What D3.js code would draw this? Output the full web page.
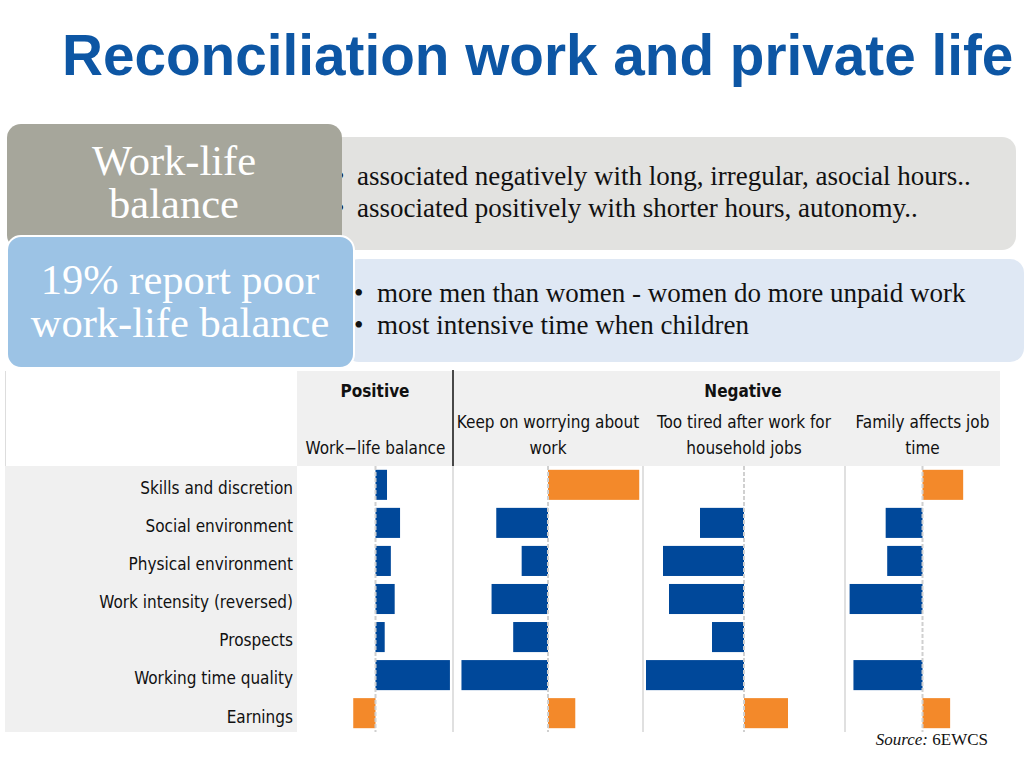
<!DOCTYPE html>
<html>
<head>
<meta charset="utf-8">
<script src="https://cdn.jsdelivr.net/npm/d3@7.9.0/dist/d3.min.js"></script>
<style>
  body { margin: 0; background: #fff; }
  svg { display: block; }
</style>
</head>
<body>
<svg id="slide" width="1024" height="768"></svg>
<script>
// data
const categories = [
  "Skills and discretion",
  "Social environment",
  "Physical environment",
  "Work intensity (reversed)",
  "Prospects",
  "Working time quality",
  "Earnings",
];
const panelTitles = [
  ["Work\u2212life balance"],
  ["Keep on worrying about", "work"],
  ["Too tired after work for", "household jobs"],
  ["Family affects job", "time"],
];
// coefficients, scaled to each panel's own maximum (-1..1)
const workLife = [0.15, 0.32, 0.2, 0.25, 0.12, 0.97, -0.29];
const worrying = [0.97, -0.55, -0.28, -0.6, -0.37, -0.92, 0.29];
const tired = [0, -0.44, -0.81, -0.75, -0.32, -0.98, 0.44];
const family = [0.53, -0.48, -0.46, -0.95, 0, -0.9, 0.36];
const series = [workLife, worrying, tired, family];

const topBullets = [
  "associated negatively with long, irregular, asocial hours..",
  "associated positively with shorter hours, autonomy..",
];
const bottomBullets = [
  "more men than women - women do more unpaid work",
  "most intensive time when children",
];

const blue = "#00489a";
const orange = "#f3892a";
const chartFont = "'DejaVu Sans Condensed', 'DejaVu Sans', sans-serif";
const serif = "'Liberation Serif', 'Times New Roman', serif";

const svg = d3.select("#slide");

// title
svg.append("text")
  .attr("x", 62).attr("y", 75)
  .attr("font-family", "'Liberation Sans', Arial, sans-serif")
  .attr("font-weight", "bold")
  .attr("font-size", 56.7)
  .attr("fill", "#0d56a4")
  .text("Reconciliation work and private life");

// text boxes
svg.append("rect")
  .attr("x", 326).attr("y", 137).attr("width", 690).attr("height", 113)
  .attr("rx", 14).attr("fill", "#e2e2e0");
svg.append("rect")
  .attr("x", 345).attr("y", 259).attr("width", 679).attr("height", 103)
  .attr("rx", 14).attr("fill", "#dfe8f4");

svg.selectAll(".bul-a")
  .data(topBullets)
  .join("text")
  .attr("x", 357).attr("y", (d, i) => 185 + i * 32)
  .attr("font-family", serif).attr("font-size", 27)
  .attr("fill", "#111")
  .text((d) => d);
svg.selectAll(".dot-a")
  .data(topBullets)
  .join("text")
  .attr("x", 335).attr("y", (d, i) => 185 + i * 32)
  .attr("font-family", serif).attr("font-size", 27)
  .attr("fill", "#111")
  .text("\u2022");

svg.append("rect")
  .attr("x", 7).attr("y", 124).attr("width", 335).attr("height", 125)
  .attr("rx", 14).attr("fill", "#a6a69b");
svg.append("rect")
  .attr("x", 7).attr("y", 236).attr("width", 347).attr("height", 132)
  .attr("rx", 14).attr("fill", "#9cc3e5")
  .attr("stroke", "#fff").attr("stroke-width", 2);

svg.selectAll(".big-a")
  .data(["Work-life", "balance"])
  .join("text")
  .attr("x", 174).attr("y", (d, i) => 175 + i * 43)
  .attr("text-anchor", "middle")
  .attr("font-family", serif).attr("font-size", 42.5)
  .attr("fill", "#fff")
  .text((d) => d);

svg.selectAll(".big-b")
  .data(["19% report poor", "work-life balance"])
  .join("text")
  .attr("x", 180).attr("y", (d, i) => 294 + i * 43)
  .attr("text-anchor", "middle")
  .attr("font-family", serif).attr("font-size", 42.5)
  .attr("fill", "#fff")
  .text((d) => d);

svg.selectAll(".bul-b")
  .data(bottomBullets)
  .join("text")
  .attr("x", 377).attr("y", (d, i) => 302 + i * 31.5)
  .attr("font-family", serif).attr("font-size", 27)
  .attr("fill", "#111")
  .text((d) => d);
svg.selectAll(".dot-b")
  .data(bottomBullets)
  .join("text")
  .attr("x", 354).attr("y", (d, i) => 302 + i * 31.5)
  .attr("font-family", serif).attr("font-size", 27)
  .attr("fill", "#111")
  .text("\u2022");

// chart
const plotTop = 466;
const plotBottom = 732;
const headTop = 371;
const panelEdges = [298, 453, 643, 845, 1000];

const y = d3.scaleBand()
  .domain(categories)
  .range([plotTop, plotBottom])
  .paddingInner(0.21)
  .paddingOuter(0.1);

const chart = svg.append("g");

// backgrounds
chart.append("rect")
  .attr("x", 297).attr("y", headTop).attr("width", 703).attr("height", plotTop - headTop)
  .attr("fill", "#f0f0f0");
chart.append("rect")
  .attr("x", 5).attr("y", plotTop).attr("width", 292).attr("height", plotBottom - plotTop)
  .attr("fill", "#f0f0f0");
chart.append("line")
  .attr("x1", 5.5).attr("x2", 5.5).attr("y1", headTop).attr("y2", plotTop)
  .attr("stroke", "#ddd");

// row labels
chart.selectAll(".row-label")
  .data(categories)
  .join("text")
  .attr("x", 293)
  .attr("y", (d) => y(d) + y.bandwidth() / 2)
  .attr("dy", "0.55em")
  .attr("text-anchor", "end")
  .attr("font-family", chartFont)
  .attr("font-size", 17)
  .attr("fill", "#111")
  .text((d) => d);

// panel separators
chart.selectAll(".sep")
  .data(panelEdges.slice(1, 4))
  .join("line")
  .attr("x1", (d) => d).attr("x2", (d) => d)
  .attr("y1", plotTop).attr("y2", plotBottom)
  .attr("stroke", "#d6d6d6").attr("stroke-width", 1.5);

chart.append("line")
  .attr("x1", 453).attr("x2", 453).attr("y1", headTop - 1).attr("y2", plotTop)
  .attr("stroke", "#111").attr("stroke-width", 1.5);

// group headings
chart.append("text")
  .attr("x", 375).attr("y", 397)
  .attr("text-anchor", "middle")
  .attr("font-family", chartFont).attr("font-weight", "bold").attr("font-size", 17)
  .attr("fill", "#111")
  .text("Positive");
chart.append("text")
  .attr("x", 743).attr("y", 397)
  .attr("text-anchor", "middle")
  .attr("font-family", chartFont).attr("font-weight", "bold").attr("font-size", 17)
  .attr("fill", "#111")
  .text("Negative");

series.forEach((values, p) => {
  const x0 = panelEdges[p];
  const x1 = panelEdges[p + 1];
  const x = d3.scaleLinear().domain([-1.01, 1.01]).range([x0, x1]);
  const g = chart.append("g");

  const lines = panelTitles[p];
  g.selectAll("text")
    .data(lines)
    .join("text")
    .attr("x", (x0 + x1) / 2)
    .attr("y", (d, i) => 454 - (lines.length - 1 - i) * 26)
    .attr("text-anchor", "middle")
    .attr("font-family", chartFont)
    .attr("font-size", 17)
    .attr("fill", "#111")
    .text((d) => d);

  g.selectAll("rect")
    .data(values.map((v, i) => ({ cat: categories[i], v })).filter((d) => d.v !== 0))
    .join("rect")
    .attr("x", (d) => Math.min(x(0), x(d.v)))
    .attr("y", (d) => y(d.cat))
    .attr("width", (d) => Math.abs(x(d.v) - x(0)))
    .attr("height", y.bandwidth())
    .attr("fill", (d) => (d.v > 0 && p > 0) || (d.v < 0 && p === 0) ? orange : blue);

  g.append("line")
    .attr("x1", x(0)).attr("x2", x(0))
    .attr("y1", plotTop).attr("y2", plotBottom)
    .attr("stroke", "#d0d0d0").attr("stroke-width", 2)
    .attr("stroke-dasharray", "4,2");
});

// source
const src = svg.append("text")
  .attr("x", 988).attr("y", 745)
  .attr("text-anchor", "end")
  .attr("font-family", serif).attr("font-size", 17)
  .attr("fill", "#111");
src.append("tspan").attr("font-style", "italic").text("Source: ");
src.append("tspan").text("6EWCS");
</script>
</body>
</html>
